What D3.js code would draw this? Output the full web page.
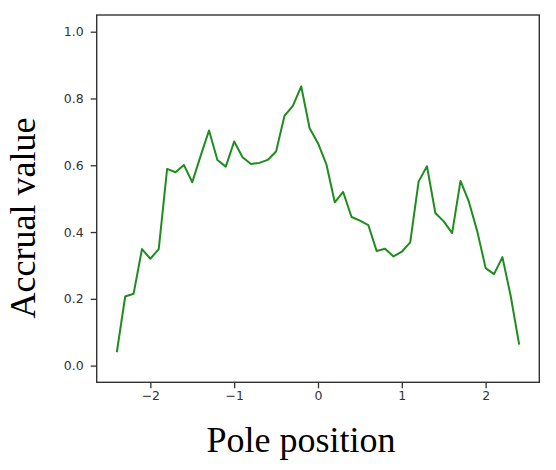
<!DOCTYPE html>
<html>
<head>
<meta charset="utf-8">
<script src="https://cdn.jsdelivr.net/npm/d3@7"></script>
<style>
  body { margin: 0; background: #fff; }
  .tick text { font-family: "DejaVu Sans", sans-serif; font-size: 12.5px; fill: #333; }
  .tick line { stroke: #333; stroke-width: 1.3; }
  .axis-label { font-family: "Liberation Serif", "Times New Roman", serif; font-size: 36px; fill: #000; }
</style>
</head>
<body>
<script>
var width = 556;
var height = 470;

// pole positions, -2.4 .. 2.4 step 0.1
var positions = [-2.4, -2.3, -2.2, -2.1, -2.0, -1.9, -1.8, -1.7, -1.6, -1.5, -1.4, -1.3, -1.2, -1.1, -1.0,
    -0.9, -0.8, -0.7, -0.6, -0.5, -0.4, -0.3, -0.2, -0.1, 0.0, 0.1, 0.2, 0.3, 0.4, 0.5, 0.6, 0.7, 0.8, 0.9,
    1.0, 1.1, 1.2, 1.3, 1.4, 1.5, 1.6, 1.7, 1.8, 1.9, 2.0, 2.1, 2.2, 2.3, 2.4];
var accrual = [0.040, 0.207, 0.215, 0.349, 0.320, 0.349, 0.589, 0.579, 0.601, 0.549, 0.628, 0.704, 0.616, 0.596, 0.671,
    0.624, 0.604, 0.607, 0.616, 0.641, 0.748, 0.778, 0.836, 0.711, 0.666, 0.603, 0.489, 0.520, 0.445, 0.434, 0.421, 0.343, 0.350, 0.327,
    0.341, 0.369, 0.551, 0.597, 0.457, 0.432, 0.397, 0.553, 0.491, 0.402, 0.292, 0.274, 0.325, 0.207, 0.063];
var xTicks = [-2, -1, 0, 1, 2];
var yTicks = [0.0, 0.2, 0.4, 0.6, 0.8, 1.0];

var plot = { left: 96.7, top: 15, right: 539.3, bottom: 382.3 };

var svg = d3.select("body").append("svg")
    .attr("width", width)
    .attr("height", height);

var x = d3.scaleLinear().domain([-2.64, 2.64]).range([plot.left, plot.right]);
var y = d3.scaleLinear().domain([-0.05, 1.05]).range([plot.bottom, plot.top]);

// axes
var xAxis = d3.axisBottom(x).tickValues(xTicks).tickSize(6).tickPadding(3).tickFormat(d3.format("d"));
var yAxis = d3.axisLeft(y).tickValues(yTicks).tickSize(6).tickPadding(7).tickFormat(d3.format(".1f"));

svg.append("g")
    .attr("transform", "translate(0," + plot.bottom + ")")
    .call(xAxis)
    .call(function(g) { g.select(".domain").remove(); });

svg.append("g")
    .attr("transform", "translate(" + plot.left + ",0)")
    .call(yAxis)
    .call(function(g) { g.select(".domain").remove(); });

// line
var line = d3.line()
    .x(function(d, i) { return x(positions[i]); })
    .y(function(d) { return y(d); });

svg.append("path")
    .datum(accrual)
    .attr("fill", "none")
    .attr("stroke", "#1f8c1f")
    .attr("stroke-width", 2)
    .attr("stroke-linejoin", "round")
    .attr("d", line);

// frame
svg.append("rect")
    .attr("x", plot.left)
    .attr("y", plot.top)
    .attr("width", plot.right - plot.left)
    .attr("height", plot.bottom - plot.top)
    .attr("fill", "none")
    .attr("stroke", "#333")
    .attr("stroke-width", 1.4);

// labels
svg.append("text")
    .attr("class", "axis-label")
    .attr("x", 301)
    .attr("y", 451.5)
    .attr("text-anchor", "middle")
    .text("Pole position");

svg.append("text")
    .attr("class", "axis-label")
    .attr("transform", "translate(35,218) rotate(-90)")
    .attr("text-anchor", "middle")
    .text("Accrual value");
</script>
</body>
</html>
